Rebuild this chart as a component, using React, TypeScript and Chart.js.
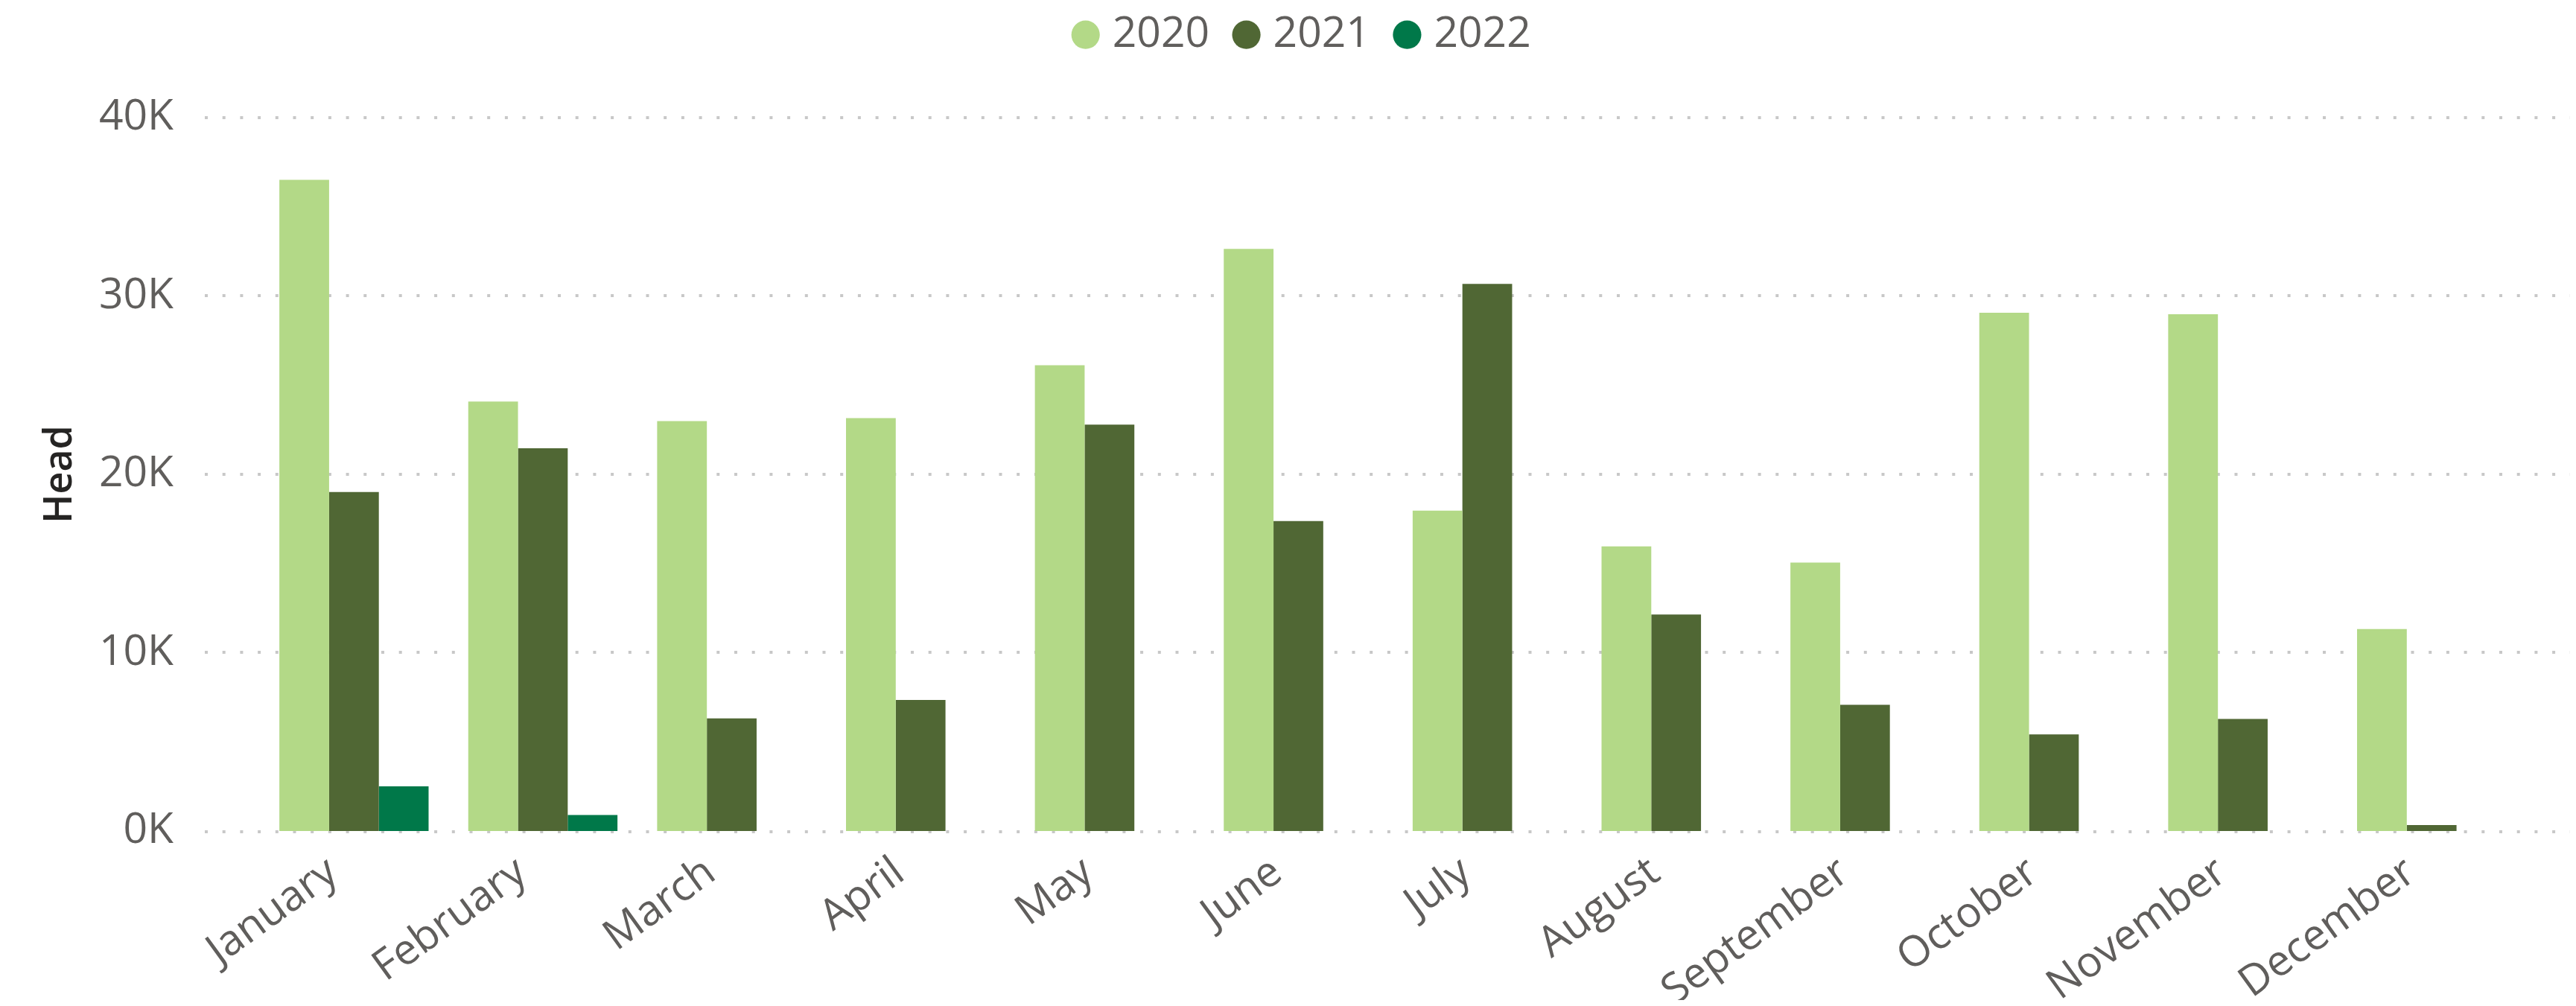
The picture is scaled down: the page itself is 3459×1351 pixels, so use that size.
import React, { useEffect, useRef } from "react";
import { Chart, registerables } from "chart.js";

Chart.register(...registerables);

const months = [
  "January", "February", "March", "April", "May", "June",
  "July", "August", "September", "October", "November", "December",
];
const seriesNames = ["2020", "2021", "2022"];
const values2020 = [36500, 24070, 22980, 23150, 26110, 32630, 17960, 15960, 15050, 29050, 28970, 11320];
const values2021 = [19000, 21450, 6310, 7350, 22780, 17370, 30670, 12140, 7070, 5420, 6280, 330];
const values2022 = [2500, 900, null, null, null, null, null, null, null, null, null, null];
const seriesColors = ["#B3D987", "#506734", "#007849"];
const yTicks = [0, 10000, 20000, 30000, 40000];

const FONT = "'Open Sans', 'Noto Sans', sans-serif";
const GRAY = "#605E5C";

const dottedGrid = {
  id: "dottedGrid",
  beforeDatasetsDraw(chart: any) {
    const { ctx, scales } = chart;
    const y = scales.y;
    ctx.save();
    ctx.strokeStyle = "#C8C8C8";
    ctx.lineWidth = 4;
    ctx.setLineDash([4, 19.7]);
    ctx.lineCap = "butt";
    for (const v of yTicks) {
      const py = Math.round(y.getPixelForValue(v)) + (v === 0 ? 1 : 0);
      ctx.beginPath();
      ctx.moveTo(267, py);
      ctx.lineTo(chart.width, py);
      ctx.stroke();
    }
    ctx.restore();
  },
};

export default function App() {
  const ref = useRef<HTMLCanvasElement | null>(null);

  useEffect(() => {
    if (!ref.current) return;
    const chart = new Chart(ref.current, {
      type: "bar",
      data: {
        labels: months,
        datasets: [
          { label: seriesNames[0], data: values2020, backgroundColor: seriesColors[0] },
          { label: seriesNames[1], data: values2021, backgroundColor: seriesColors[1] },
          { label: seriesNames[2], data: values2022 as any, backgroundColor: seriesColors[2] },
        ],
      },
      options: {
        animation: false,
        responsive: true,
        maintainAspectRatio: false,
        datasets: {
          bar: { categoryPercentage: 0.79, barPercentage: 1.0 },
        } as any,
        layout: { padding: { top: -35.5, left: 106, right: 59, bottom: 0 } },
        plugins: {
          tooltip: { enabled: false },
          legend: {
            position: "top",
            align: "center",
            labels: {
              usePointStyle: true,
              pointStyle: "circle",
              boxWidth: 15,
              boxHeight: 27,
              padding: 42,
              color: GRAY,
              font: { family: FONT, size: 57 },
            },
          },
        },
        scales: {
          x: {
            type: "category",
            position: "bottom",
            grid: { display: false, drawTicks: false },
            border: { display: false },
            ticks: {
              color: GRAY,
              font: { family: FONT, size: 57 },
              minRotation: 36,
              maxRotation: 36,
              autoSkip: false,
              labelOffset: -28,
              padding: 22,
            },
            afterFit: (s: any) => { s.height = 227; },
          },
          xTop: {
            type: "category",
            position: "top",
            display: true,
            grid: { display: false, drawTicks: false },
            border: { display: false },
            ticks: { display: false },
            afterFit: (s: any) => { s.height = 72.5; },
          },
          y: {
            type: "linear",
            min: 0,
            max: 40000,
            grid: { display: false, drawTicks: false },
            border: { display: false },
            ticks: {
              stepSize: 10000,
              color: GRAY,
              font: { family: FONT, size: 57 },
              padding: 115.5,
              callback: (v: any) => `${Number(v) / 1000}K`,
            },
            title: {
              display: true,
              text: "Head",
              color: "#252423",
              font: { family: FONT, size: 52, weight: "600" as any },
              padding: { top: -64, bottom: 0 },
            },
            afterFit: (s: any) => { s.width = 234.5; },
          },
        },
      },
      plugins: [dottedGrid],
    });
    return () => chart.destroy();
  }, []);

  return (
    <div style={{ width: "100%", height: "1335px", position: "relative" }}>
      <canvas ref={ref} />
    </div>
  );
}
